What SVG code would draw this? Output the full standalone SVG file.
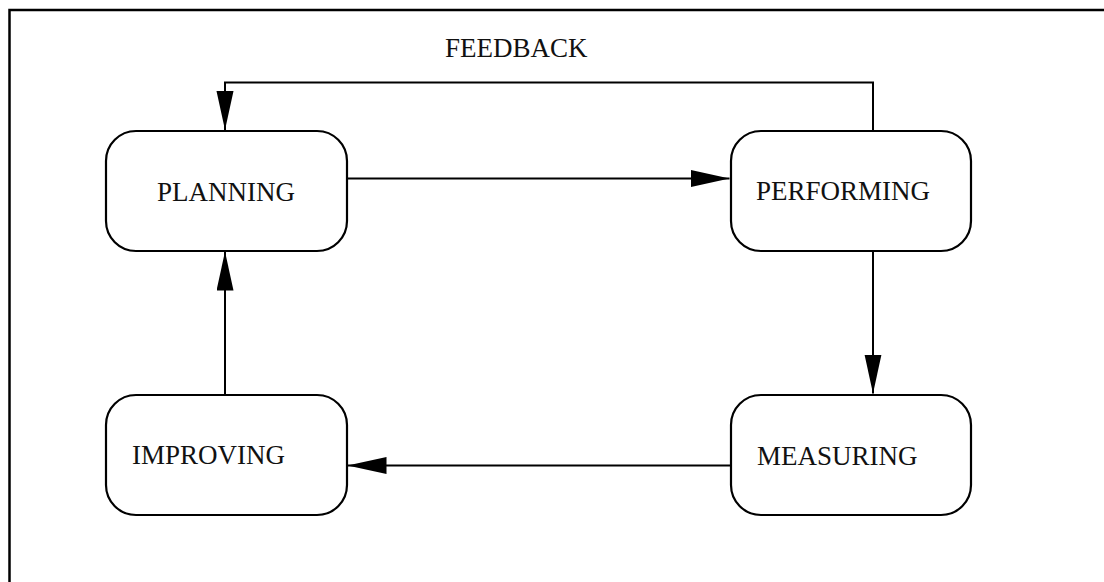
<svg xmlns="http://www.w3.org/2000/svg" width="1104" height="582" viewBox="0 0 1104 582">
  <style>
    .box { fill: #ffffff; stroke: #000000; stroke-width: 2.2; }
    .label { font-family: "Liberation Serif", "Times New Roman", serif; font-size: 27px; fill: #111111; }
    .wire { fill: none; stroke: #000000; stroke-width: 2; marker-end: url(#head); }
    .frame { fill: none; stroke: #000000; stroke-width: 2.5; }
  </style>
  <defs>
    <marker id="head" markerUnits="userSpaceOnUse" markerWidth="40" markerHeight="18" refX="39" refY="8.5" orient="auto">
      <path d="M0,0 L39,8.5 L0,17 Z" fill="#000000"/>
    </marker>
  </defs>

  <rect x="0" y="0" width="1104" height="582" fill="#ffffff"/>
  <!-- open page frame: left and top edges -->
  <path class="frame" d="M9.5,590 V10 H1110"/>

  <g id="connectors">
    <path id="feedback" class="wire" d="M873,131 V82.5 H225 V130"/>
    <path id="plan-perform" class="wire" d="M345,178.5 H729.5"/>
    <path id="perform-measure" class="wire" d="M873,251 V393.5"/>
    <path id="measure-improve" class="wire" d="M731,465.5 H347.5"/>
    <path id="improve-plan" class="wire" d="M225,395 V251.5"/>
  </g>

  <g id="planning">
    <rect class="box" x="106" y="131" width="241" height="120" rx="30" ry="30"/>
    <text class="label" x="157" y="201">PLANNING</text>
  </g>
  <g id="performing">
    <rect class="box" x="731" y="131" width="240" height="120" rx="30" ry="30"/>
    <text class="label" x="756" y="200">PERFORMING</text>
  </g>
  <g id="measuring">
    <rect class="box" x="731" y="395" width="240" height="120" rx="30" ry="30"/>
    <text class="label" x="757" y="465">MEASURING</text>
  </g>
  <g id="improving">
    <rect class="box" x="106" y="395" width="241" height="120" rx="30" ry="30"/>
    <text class="label" x="132" y="464">IMPROVING</text>
  </g>
  <g id="feedback-label">
    <text class="label" x="445" y="56.5">FEEDBACK</text>
  </g>
</svg>
